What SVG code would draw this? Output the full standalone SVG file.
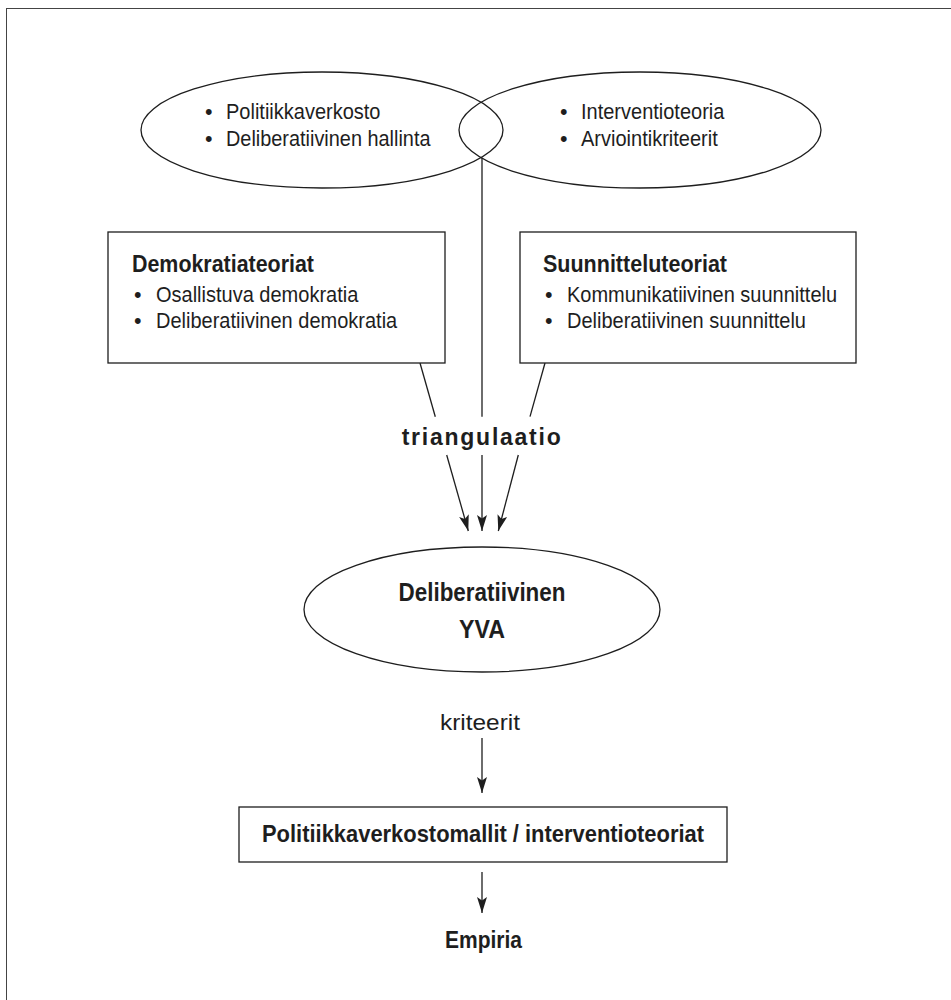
<svg xmlns="http://www.w3.org/2000/svg" width="951" height="1000" viewBox="0 0 951 1000">
<defs>
<style>
.ln{stroke:#1e1e1e;stroke-width:1.3;fill:none}
.sh{fill:#fff;stroke:#1e1e1e;stroke-width:1.3}
.t{font-family:"Liberation Sans",Arial,sans-serif;font-size:21.5px;fill:#1e1e1e}
.b{font-family:"Liberation Sans",Arial,sans-serif;font-weight:bold;fill:#1e1e1e}
</style>
<marker id="ah" viewBox="0 0 16 10" refX="16" refY="5" markerWidth="16" markerHeight="10" markerUnits="userSpaceOnUse" orient="auto">
<path d="M0,0 L16,5 L0,10 L3.5,5 z" fill="#1e1e1e"/>
</marker>
</defs>
<rect width="951" height="1000" fill="#fff"/>
<rect x="6.5" y="8.5" width="1000" height="1000" fill="none" stroke="#444" stroke-width="1"/>

<g id="connectors">
<line class="ln" x1="420" y1="363" x2="435.3" y2="416.7"/>
<line class="ln" x1="446.7" y1="455" x2="468.3" y2="531" marker-end="url(#ah)"/>
<line class="ln" x1="482" y1="157.7" x2="482" y2="416.7"/>
<line class="ln" x1="482" y1="455" x2="482" y2="531" marker-end="url(#ah)"/>
<line class="ln" x1="545" y1="363" x2="530" y2="416.7"/>
<line class="ln" x1="518.3" y1="455" x2="498.3" y2="531" marker-end="url(#ah)"/>
<line class="ln" x1="482" y1="738" x2="482" y2="793" marker-end="url(#ah)"/>
<line class="ln" x1="482" y1="872" x2="482" y2="913" marker-end="url(#ah)"/>
<text class="b" x="401.7" y="445" font-size="23" textLength="159" lengthAdjust="spacing">triangulaatio</text>
<text class="t" x="440" y="730" font-size="25.5" textLength="80" lengthAdjust="spacingAndGlyphs">kriteerit</text>
</g>

<g id="ellipse-left">
<ellipse cx="322" cy="130" rx="181" ry="58" class="ln"/>
<text class="t" x="205" y="119">•</text>
<text class="t" x="226" y="119" textLength="154.5" lengthAdjust="spacingAndGlyphs">Politiikkaverkosto</text>
<text class="t" x="205" y="146">•</text>
<text class="t" x="226" y="146" textLength="204.5" lengthAdjust="spacingAndGlyphs">Deliberatiivinen hallinta</text>
</g>

<g id="ellipse-right">
<ellipse cx="640" cy="130" rx="181" ry="58" class="ln"/>
<text class="t" x="560" y="119">•</text>
<text class="t" x="581" y="119" textLength="143.4" lengthAdjust="spacingAndGlyphs">Interventioteoria</text>
<text class="t" x="560" y="146">•</text>
<text class="t" x="581" y="146" textLength="136.7" lengthAdjust="spacingAndGlyphs">Arviointikriteerit</text>
</g>

<g id="box-demokratia">
<rect x="108" y="232" width="337" height="131" class="sh"/>
<text class="b" x="132" y="272" font-size="23.5" textLength="182" lengthAdjust="spacingAndGlyphs">Demokratiateoriat</text>
<text class="t" x="134" y="302">•</text>
<text class="t" x="156" y="302" textLength="202.3" lengthAdjust="spacingAndGlyphs">Osallistuva demokratia</text>
<text class="t" x="134" y="328">•</text>
<text class="t" x="156" y="328" textLength="241.2" lengthAdjust="spacingAndGlyphs">Deliberatiivinen demokratia</text>
</g>

<g id="box-suunnittelu">
<rect x="520" y="232" width="336" height="131" class="sh"/>
<text class="b" x="543" y="272" font-size="23.5" textLength="184" lengthAdjust="spacingAndGlyphs">Suunnitteluteoriat</text>
<text class="t" x="545" y="302">•</text>
<text class="t" x="567" y="302" textLength="270.1" lengthAdjust="spacingAndGlyphs">Kommunikatiivinen suunnittelu</text>
<text class="t" x="545" y="328">•</text>
<text class="t" x="567" y="328" textLength="239" lengthAdjust="spacingAndGlyphs">Deliberatiivinen suunnittelu</text>
</g>

<g id="ellipse-yva">
<ellipse cx="482" cy="609.5" rx="178" ry="62.5" class="sh"/>
<text class="b" x="398.5" y="601" font-size="26" textLength="167" lengthAdjust="spacingAndGlyphs">Deliberatiivinen</text>
<text class="b" x="459" y="638" font-size="26" textLength="46" lengthAdjust="spacingAndGlyphs">YVA</text>
</g>

<g id="box-mallit">
<rect x="239" y="807" width="488" height="55" class="sh"/>
<text class="b" x="262" y="842" font-size="24.5" textLength="442" lengthAdjust="spacingAndGlyphs">Politiikkaverkostomallit / interventioteoriat</text>
</g>

<g id="empiria">
<text class="b" x="445" y="948" font-size="24" textLength="77" lengthAdjust="spacingAndGlyphs">Empiria</text>
</g>
</svg>
